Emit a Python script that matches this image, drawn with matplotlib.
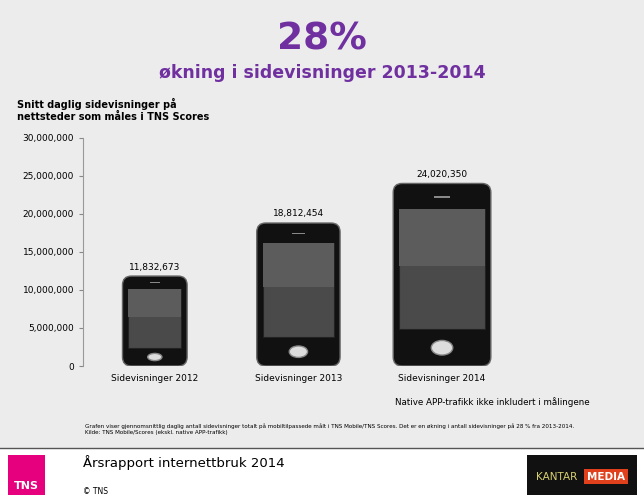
import matplotlib.pyplot as plt
from matplotlib.patches import FancyBboxPatch, Ellipse, Rectangle
from matplotlib.ticker import FuncFormatter

years = ["Sidevisninger 2012", "Sidevisninger 2013", "Sidevisninger 2014"]
values = [11832673, 18812454, 24020350]
widths = [0.45, 0.58, 0.68]
centers = [0.5, 1.5, 2.5]

fig = plt.figure(figsize=(6.44, 5.0), dpi=100)
fig.patch.set_facecolor("white")
fig.add_artist(Rectangle((0, 1 - 448 / 500), 1, 448 / 500, transform=fig.transFigure,
                         facecolor="#ececec", edgecolor="none", zorder=-5))
fig.add_artist(plt.Line2D([0, 1], [1 - 448 / 500] * 2, color="#555555", lw=1))

ax = fig.add_axes([83 / 644, 1 - 366 / 500, 517 / 644, 228 / 500])
ax.set_facecolor("none")
ax.set_xlim(0, 3.6)
ax.set_ylim(0, 30000000)
xpp = 3.6 / 517
ypp = 30000000 / 228
asp = ypp / xpp

for c, v, w, lab in zip(centers, values, widths, years):
    r = 9 * xpp
    ax.add_patch(FancyBboxPatch((c - w / 2 + r, r * asp), w - 2 * r, v - 2 * r * asp,
                                boxstyle=f"round,pad={r}", mutation_aspect=asp,
                                facecolor="#111111", edgecolor="#666666", lw=1))
    sx = 6 * xpp
    ax.add_patch(Rectangle((c - w / 2 + sx, v * 0.2), w - 2 * sx, v * 0.66,
                           facecolor="#4a4a4a", edgecolor="#222222", lw=0.8))
    ax.add_patch(Rectangle((c - w / 2 + sx, v * 0.55), w - 2 * sx, v * 0.31,
                           facecolor="#5c5c5c", edgecolor="none"))
    ax.add_patch(Ellipse((c, v * 0.1), 0.22 * w, v * 0.08, facecolor="#dddddd", edgecolor="#888888"))
    ax.add_patch(Rectangle((c - w * 0.08, v * 0.92), w * 0.16, v * 0.012, facecolor="#888888"))
    ax.text(c, v + 600000, f"{v:,}", ha="center", va="bottom", fontsize=6.5)
    ax.text(c, -1000000, lab, ha="center", va="top", fontsize=6.5)

ax.yaxis.set_major_formatter(FuncFormatter(lambda y, _: f"{int(y):,}"))
ax.set_yticks(range(0, 30000001, 5000000))
ax.tick_params(axis="y", labelsize=6.5, length=3, color="#888888")
ax.set_xticks([])
for s in ["top", "right", "bottom"]:
    ax.spines[s].set_visible(False)
ax.spines["left"].set_color("#999999")

purple = "#7030a0"
fig.text(0.5, 1 - 40 / 500, "28%", ha="center", va="center", fontsize=27, weight="bold", color=purple)
fig.text(0.5, 1 - 73 / 500, "økning i sidevisninger 2013-2014", ha="center", va="center",
         fontsize=12.5, weight="bold", color=purple)
fig.text(17 / 644, 1 - 98 / 500, "Snitt daglig sidevisninger på\nnettsteder som måles i TNS Scores",
         ha="left", va="top", fontsize=7, weight="bold")
fig.text(395 / 644, 1 - 402 / 500, "Native APP-trafikk ikke inkludert i målingene", ha="left",
         va="center", fontsize=6.3)
fig.text(85 / 644, 1 - 429 / 500,
         "Grafen viser gjennomsnittlig daglig antall sidevisninger totalt på mobiltilpassede målt i TNS Mobile/TNS Scores. "
         "Det er en økning i antall sidevisninger på 28 % fra 2013-2014.\nKilde: TNS Mobile/Scores (ekskl. native APP-trafikk)",
         ha="left", va="center", fontsize=4.1, linespacing=1.2)

fig.add_artist(Rectangle((8 / 644, 1 - 495 / 500), 37 / 644, 40 / 500, transform=fig.transFigure,
                         facecolor="#e6007e", edgecolor="none"))
fig.text(26 / 644, 1 - 486 / 500, "TNS", ha="center", va="center", fontsize=8, weight="bold", color="white")
fig.text(83 / 644, 1 - 463 / 500, "Årsrapport internettbruk 2014", ha="left", va="center", fontsize=9.5)
fig.text(83 / 644, 1 - 492 / 500, "© TNS", ha="left", va="center", fontsize=5.5)
fig.add_artist(Rectangle((527 / 644, 1 - 495 / 500), 110 / 644, 40 / 500, transform=fig.transFigure,
                         facecolor="#111111", edgecolor="none"))
fig.text(536 / 644, 1 - 477 / 500, "KANTAR", ha="left", va="center", fontsize=7.5, color="#d8d070")
fig.add_artist(Rectangle((584 / 644, 1 - 484 / 500), 44 / 644, 15 / 500, transform=fig.transFigure,
                         facecolor="#e0401c", edgecolor="none"))
fig.text(606 / 644, 1 - 477 / 500, "MEDIA", ha="center", va="center", fontsize=7.5, weight="bold", color="white")

fig.savefig("out.png", dpi=100)
